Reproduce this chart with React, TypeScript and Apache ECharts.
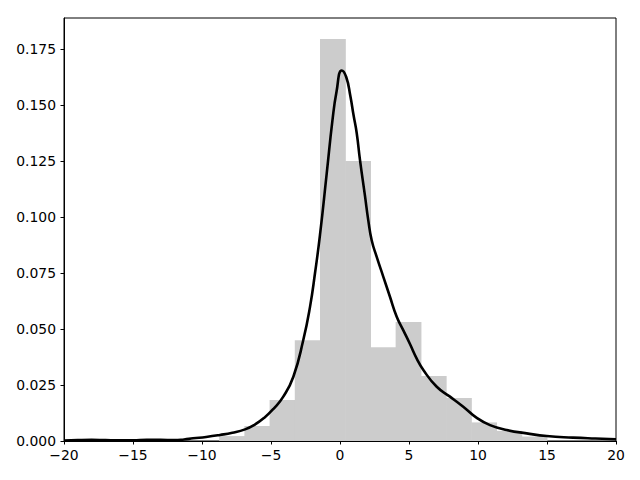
import React, { useEffect, useRef } from "react";
import * as echarts from "echarts";

const binEdges = [-8.755, -6.929, -5.102, -3.276, -1.449, 0.378, 2.204, 4.031, 5.857, 7.684, 9.51, 11.337, 13.163, 14.99];
const binHeights = [0.0022, 0.0067, 0.0183, 0.045, 0.1795, 0.125, 0.0418, 0.0531, 0.029, 0.0192, 0.0083, 0.0045, 0.002];

const kdeX = [-20, -19, -18, -17, -16, -15, -14, -13, -12, -11.3, -10.65, -9.7, -8.7, -7.8, -6.88, -6.2, -5.5, -4.8, -4.11, -3.38, -2.66, -2.17, -1.81, -1.45, -0.96, -0.55, -0.25, 0.12, 0.45, 0.75, 0.98, 1.21, 1.45, 1.81, 2.05, 2.3, 2.66, 3.14, 3.62, 4.11, 4.59, 5.07, 5.56, 6.04, 7.01, 7.97, 8.93, 9.91, 10.87, 12.08, 13.53, 14.98, 16.88, 18.5, 20];
const kdeY = [0.0002, 0.0004, 0.0005, 0.0004, 0.0003, 0.0003, 0.0005, 0.0005, 0.0004, 0.0007, 0.0012, 0.0018, 0.0027, 0.0037, 0.0052, 0.0072, 0.0103, 0.0145, 0.0198, 0.0287, 0.0451, 0.06, 0.075, 0.092, 0.1196, 0.143, 0.156, 0.1654, 0.1625, 0.154, 0.1455, 0.1375, 0.1254, 0.1094, 0.0985, 0.0895, 0.0822, 0.0733, 0.0644, 0.0555, 0.0494, 0.0433, 0.0368, 0.0317, 0.0242, 0.0198, 0.0153, 0.0103, 0.0071, 0.0049, 0.0034, 0.0022, 0.0015, 0.0011, 0.0008];

const xTicks = [-20, -15, -10, -5, 0, 5, 10, 15, 20];
const yTicks = [0, 0.025, 0.05, 0.075, 0.1, 0.125, 0.15, 0.175];

const fmtX = (v: number) => String(v).replace("-", "\u2212");

export default function App() {
  const ref = useRef<HTMLDivElement>(null);
  useEffect(() => {
    if (!ref.current) return;
    const chart = echarts.init(ref.current, undefined, { renderer: "svg" });
    const bars = binHeights.map((h, i) => [binEdges[i], binEdges[i + 1], h]);
    const kde = kdeX.map((x, i) => [x, kdeY[i]]);
    const textStyle = { color: "#000", fontFamily: "DejaVu Sans", fontSize: 13.9 };
    chart.setOption({
      animation: false,
      backgroundColor: "#fff",
      grid: {
        left: 64, right: 24, top: 18, bottom: 39,
        show: true, borderColor: "#000", borderWidth: 1, backgroundColor: "transparent",
      },
      xAxis: {
        type: "value", min: -20, max: 20, interval: 5,
        axisLine: { onZero: false, lineStyle: { color: "#000", width: 1 } },
        axisTick: { show: true, length: 3.5, lineStyle: { color: "#000" }, customValues: xTicks },
        axisLabel: { ...textStyle, margin: 7, formatter: (v: number) => fmtX(v), customValues: xTicks },
        splitLine: { show: false },
      },
      yAxis: {
        type: "value", min: 0, max: 0.18884,
        axisLine: { show: true, onZero: false, lineStyle: { color: "#000", width: 1 } },
        axisTick: { show: true, length: 3.5, lineStyle: { color: "#000" }, customValues: yTicks },
        axisLabel: { ...textStyle, margin: 8, formatter: (v: number) => v.toFixed(3), customValues: yTicks },
        splitLine: { show: false },
      },
      series: [
        {
          type: "custom",
          clip: true,
          z: 1,
          encode: { x: [0, 1], y: 2 },
          data: bars,
          renderItem: (params: any, api: any) => {
            const p0 = api.coord([api.value(0), api.value(2)]);
            const p1 = api.coord([api.value(1), 0]);
            return {
              type: "rect",
              shape: { x: p0[0], y: p0[1], width: p1[0] - p0[0] + 0.6, height: p1[1] - p0[1] },
              style: { fill: "#cccccc" },
            };
          },
        },
        {
          type: "line",
          z: 5,
          data: kde,
          smooth: 0.5,
          showSymbol: false,
          symbol: "none",
          lineStyle: { color: "#000", width: 2.6 },
        },
      ],
    });
    return () => chart.dispose();
  }, []);
  return <div ref={ref} style={{ position: "fixed", left: 0, top: 0, width: 640, height: 480 }} />;
}
